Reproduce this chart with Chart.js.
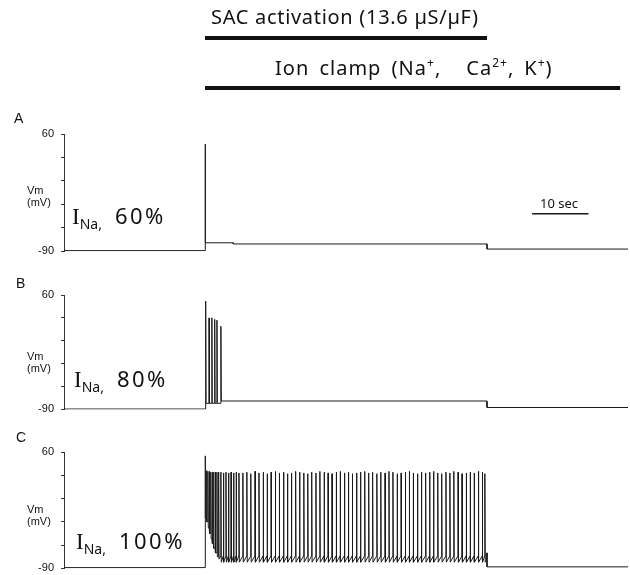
<!DOCTYPE html>
<html>
<head>
<meta charset="utf-8">
<script src="https://cdn.jsdelivr.net/npm/chart.js@4.4.1/dist/chart.umd.min.js"></script>
<style>
  body { margin: 0; background: #fff; }
  #wrap { position: relative; width: 630px; height: 575px; overflow: hidden;
          font-family: "Liberation Sans", Arial, sans-serif; color: #111; }
  canvas { position: absolute; left: 0; }
  .t { position: absolute; white-space: nowrap; }
  .head { font-family: "Noto Sans", sans-serif; font-size: 20px; line-height: 20px; letter-spacing: 0.7px; }
  .head sup { font-size: 12px; line-height: 0; }
  .wide { word-spacing: 4px; letter-spacing: 1px; }
  .gap1 { margin-left: 25px; }
  .gap2 { margin-left: 10px; }
  .panel { font-size: 14px; line-height: 14px; }
  .unit { font-size: 11px; line-height: 12px; }
  .ina { font-family: "Noto Sans", sans-serif; font-size: 22px; line-height: 22px; }
  .ina .i { font-family: "Liberation Serif", serif; font-size: 23px; }
  .ina sub { font-size: 14px; line-height: 0; }
  .ina .pct { margin-left: 13px; letter-spacing: 2.5px; }
  .bar { font-family: "Noto Sans", sans-serif; font-size: 13px; line-height: 13px; }
</style>
</head>
<body>
<div id="wrap">
  <canvas id="chartA" width="630" height="265" style="top:0"></canvas>
  <canvas id="chartB" width="630" height="145" style="top:278px"></canvas>
  <canvas id="chartC" width="630" height="147" style="top:435px"></canvas>

  <div class="t head" style="left:211px; top:7px">SAC activation (13.6 &micro;S/&micro;F)</div>
  <div class="t head wide" style="left:275px; top:58px">Ion clamp (Na<sup>+</sup>,<span class="gap1">Ca<sup>2+</sup>,</span><span class="gap2">K<sup>+</sup>)</span></div>

  <div class="t panel" style="left:14px; top:111px">A</div>
  <div class="t panel" style="left:16px; top:276px">B</div>
  <div class="t panel" style="left:16px; top:430px">C</div>

  <div class="t unit" style="left:27px; top:184px">Vm<br>(mV)</div>
  <div class="t unit" style="left:27px; top:350px">Vm<br>(mV)</div>
  <div class="t unit" style="left:27px; top:503px">Vm<br>(mV)</div>

  <div class="t ina" style="left:72px; top:204px"><span class="i">I</span><sub>Na,</sub><span class="pct">60%</span></div>
  <div class="t ina" style="left:74px; top:367px"><span class="i">I</span><sub>Na,</sub><span class="pct">80%</span></div>
  <div class="t ina" style="left:76px; top:529px"><span class="i">I</span><sub>Na,</sub><span class="pct">100%</span></div>

  <div class="t bar" style="left:540px; top:197px">10 sec</div>
</div>

<script>
// time axis (s) and membrane potential axis (mV)
const timeRange = [0, 100];
const vmTicks = [-90, -60, -30, 0, 30, 60];
const vmLabelled = [60, -90];

// stimulus windows (s)
const sacWindow = [25, 75];
const clampWindow = [25, 98.6];

// 10 sec scale bar
const scaleBarT = [83, 93];
const scaleBarVm = -42;

// resting level before and after the stimulus, panels A, B, C
const restVm = [-89, -89.5, -89];
const recoveryVm = [-87, -87.5, -88];

// spikes as [time, peak]
const spikesA = [[25.0, 47]];
const troughsA = [-79];
const plateauTA = [30, 30, 75];
const plateauVA = [-79, -80.5, -80.5];

const spikesB = [[25.1, 52], [25.7, 30], [26.2, 30], [26.7, 28], [27.1, 27], [27.8, 19]];
const troughsB = [-82, -82, -82, -82, -82, -79];
const plateauTB = [75];
const plateauVB = [-79];

const spikesC = [
  [25.00, 55], [25.25, 36], [25.50, 35], [25.75, 35], [26.00, 34], [26.25, 34], [26.50, 34], [26.80, 34],
  [27.10, 34], [27.40, 34], [27.80, 34], [28.25, 33], [28.70, 34], [29.15, 33], [29.60, 34], [30.05, 33],
  [30.50, 34], [31.00, 33],
  [31.70, 33], [32.40, 34], [33.10, 32], [33.85, 35], [34.55, 33], [35.30, 34], [36.00, 32], [36.70, 34],
  [37.45, 35], [38.15, 33], [38.90, 34], [39.60, 32], [40.30, 33], [41.05, 35], [41.75, 34], [42.50, 33],
  [43.20, 32], [43.90, 34], [44.65, 33], [45.35, 35], [46.10, 34], [46.80, 33], [47.50, 32], [48.25, 34],
  [48.95, 35], [49.70, 33], [50.40, 34], [51.10, 32], [51.85, 33], [52.55, 34], [53.30, 35], [54.00, 33],
  [54.70, 34], [55.45, 32], [56.15, 34], [56.90, 33], [57.60, 35], [58.30, 34], [59.05, 32], [59.75, 33],
  [60.50, 34], [61.20, 35], [61.90, 33], [62.65, 32], [63.35, 34], [64.10, 33], [64.80, 34], [65.50, 35],
  [66.25, 33], [66.95, 32], [67.70, 34], [68.40, 33], [69.10, 35], [69.85, 34], [70.55, 32], [71.30, 33],
  [72.00, 34], [72.70, 33], [73.45, 35], [74.15, 34], [74.60, 32]
];
const burstTroughsC = [-25, -30, -38, -45, -52, -58, -64, -70, -75, -78];
const troughVmC = -82;
const thresholdVmC = -74;
const plateauTC = [74.9, 75];
const plateauVC = [-80, -70];

// each spike: slow rise to threshold, fast upstroke, fast repolarisation
function buildTrace(rest, spikes, trough, threshold, plateauT, plateauV, recovery) {
  const pts = [{x: timeRange[0], y: rest}, {x: sacWindow[0], y: rest}];
  spikes.forEach(([t, peak], i) => {
    if (i > 0) pts.push({x: t, y: threshold(i)});
    pts.push({x: t + 0.02, y: peak});
    pts.push({x: t + 0.09, y: trough(i)});
  });
  plateauT.forEach((t, i) => pts.push({x: t, y: plateauV[i]}));
  pts.push({x: sacWindow[1], y: recovery});
  pts.push({x: timeRange[1], y: recovery});
  return pts;
}

const traceA = buildTrace(restVm[0], spikesA, i => troughsA[i], i => troughsA[i - 1],
  plateauTA, plateauVA, recoveryVm[0]);
const traceB = buildTrace(restVm[1], spikesB, i => troughsB[i], i => troughsB[i - 1],
  plateauTB, plateauVB, recoveryVm[1]);
const traceC = buildTrace(restVm[2], spikesC,
  i => (i < burstTroughsC.length ? burstTroughsC[i] : troughVmC),
  i => (i < burstTroughsC.length ? burstTroughsC[i - 1] : thresholdVmC),
  plateauTC, plateauVC, recoveryVm[2]);

const stimBars = {
  id: 'stimBars',
  afterDraw(chart) {
    const x = chart.scales.x, c = chart.ctx;
    c.save();
    c.strokeStyle = '#111';
    c.lineWidth = 4;
    [[sacWindow, 38], [clampWindow, 88]].forEach(([w, y]) => {
      c.beginPath();
      c.moveTo(x.getPixelForValue(w[0]), y);
      c.lineTo(x.getPixelForValue(w[1]), y);
      c.stroke();
    });
    c.restore();
  }
};

function makePanel(id, padTop, datasets, plugins) {
  return new Chart(document.getElementById(id), {
    type: 'line',
    data: { datasets },
    options: {
      responsive: false,
      animation: false,
      events: [],
      layout: { padding: { top: padTop, bottom: 0, left: 0, right: 2 } },
      plugins: { legend: { display: false }, tooltip: { enabled: false } },
      elements: { point: { radius: 0 }, line: { tension: 0 } },
      scales: {
        x: { type: 'linear', min: timeRange[0], max: timeRange[1], display: false },
        y: {
          min: vmTicks[0], max: vmTicks[vmTicks.length - 1],
          afterFit: s => { s.width = 64; },
          afterBuildTicks: s => { s.ticks = vmTicks.map(v => ({value: v})); },
          ticks: {
            padding: 7,
            color: '#111',
            font: { family: 'Liberation Sans', size: 11 },
            callback: v => (vmLabelled.includes(v) ? v : '')
          },
          grid: { drawOnChartArea: false, tickLength: 3, color: '#333' },
          border: { color: '#333', width: 1 }
        }
      }
    },
    plugins: plugins || []
  });
}

const lineStyle = { borderColor: '#1a1a1a', borderWidth: 1, fill: false };

makePanel('chartA', 134, [
  { ...lineStyle, data: traceA },
  { ...lineStyle, borderWidth: 1.5, data: scaleBarT.map(t => ({x: t, y: scaleBarVm})) }
], [stimBars]);
makePanel('chartB', 17, [{ ...lineStyle, data: traceB }]);
makePanel('chartC', 17, [{ ...lineStyle, data: traceC }]);
</script>
</body>
</html>
